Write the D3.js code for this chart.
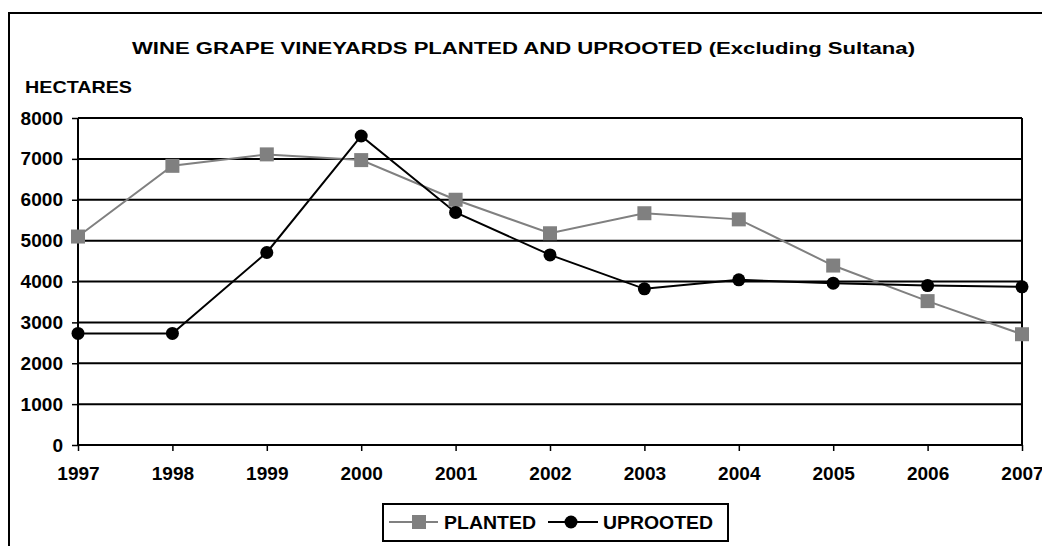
<!DOCTYPE html>
<html lang="en">
<head>
  <meta charset="UTF-8">
  <title>Wine grape vineyards planted and uprooted</title>
  <script src="https://d3js.org/d3.v7.min.js"></script>
  <style>
    body {
      margin: 0;
      padding: 0;
      background-color: #fff;
    }
    svg text {
      font-family: "Liberation Sans", Arial, sans-serif;
      font-weight: bold;
      fill: #000;
    }
    .grid line {
      stroke: #000;
      stroke-width: 2px;
    }
  </style>
</head>
<body>
  <div id="chart"></div>

  <script>
    // Data
    const years = ['1997', '1998', '1999', '2000', '2001', '2002', '2003', '2004', '2005', '2006', '2007'];
    const planted = [5100, 6830, 7110, 6970, 6000, 5180, 5670, 5520, 4390, 3520, 2710];
    const uprooted = [2730, 2730, 4710, 7560, 5690, 4650, 3820, 4040, 3960, 3900, 3870];
    const yTicks = [0, 1000, 2000, 3000, 4000, 5000, 6000, 7000, 8000];

    const width = 1042;
    const height = 546;
    const plot = { left: 78, right: 1022, top: 118, bottom: 445 };

    const svg = d3.select('#chart')
      .append('svg')
      .attr('width', width)
      .attr('height', height);

    // Outer frame (runs off the right and bottom edges)
    svg.append('rect')
      .attr('x', 9)
      .attr('y', 13)
      .attr('width', 1060)
      .attr('height', 560)
      .attr('fill', 'none')
      .attr('stroke', '#000')
      .attr('stroke-width', 2);

    const x = d3.scalePoint()
      .domain(years)
      .range([plot.left, plot.right]);

    const y = d3.scaleLinear()
      .domain([0, 8000])
      .range([plot.bottom, plot.top]);

    // the original text is a bit wider than Arial, so stretch it
    function stretch(sel, len) {
      sel.attr('textLength', len).attr('lengthAdjust', 'spacingAndGlyphs');
    }

    // Title
    svg.append('text')
      .attr('x', 132)
      .attr('y', 54)
      .style('font-size', '16px')
      .text('WINE GRAPE VINEYARDS PLANTED AND UPROOTED (Excluding Sultana)')
      .call(stretch, 783);

    svg.append('text')
      .attr('x', 25)
      .attr('y', 93)
      .style('font-size', '17px')
      .text('HECTARES')
      .call(stretch, 107);

    // Gridlines
    svg.append('g')
      .attr('class', 'grid')
      .selectAll('line')
      .data(yTicks.filter(d => d > 0))
      .enter()
      .append('line')
      .attr('x1', plot.left)
      .attr('x2', plot.right)
      .attr('y1', d => y(d))
      .attr('y2', d => y(d));

    // Right border of plot
    svg.append('line')
      .attr('x1', plot.right)
      .attr('x2', plot.right)
      .attr('y1', plot.top)
      .attr('y2', plot.bottom)
      .attr('stroke', '#000')
      .attr('stroke-width', 2);

    // Axes
    const yAxis = svg.append('g')
      .attr('transform', `translate(${plot.left},0)`)
      .call(d3.axisLeft(y).tickValues(yTicks).tickSize(6).tickPadding(9).tickFormat(d3.format('d')));

    const xAxis = svg.append('g')
      .attr('transform', `translate(0,${plot.bottom})`)
      .call(d3.axisBottom(x).tickSize(6).tickPadding(16));

    [yAxis, xAxis].forEach(g => {
      g.select('.domain').attr('stroke', '#000').attr('stroke-width', 2);
      g.selectAll('.tick line').attr('stroke', '#000').attr('stroke-width', 1.5);
      g.selectAll('.tick text')
        .style('font-size', '19px')
        .style('font-family', '"Liberation Sans", Arial, sans-serif')
        .style('font-weight', 'bold')
        .attr('fill', '#000')
        .each(function () {
          const n = this.textContent.length;
          d3.select(this).call(stretch, n * 10.6);
        });
    });
    xAxis.select('.domain').attr('d', `M${plot.left},0H${plot.right}`);
    yAxis.select('.domain').attr('d', `M0,${plot.bottom}V${plot.top}`);

    // Lines
    const line = d3.line()
      .x((d, i) => x(years[i]))
      .y(d => y(d));

    svg.append('path')
      .datum(planted)
      .attr('d', line)
      .attr('fill', 'none')
      .attr('stroke', '#808080')
      .attr('stroke-width', 2);

    svg.append('path')
      .datum(uprooted)
      .attr('d', line)
      .attr('fill', 'none')
      .attr('stroke', '#000')
      .attr('stroke-width', 2);

    svg.append('g')
      .selectAll('rect')
      .data(planted)
      .enter()
      .append('rect')
      .attr('x', (d, i) => x(years[i]) - 7)
      .attr('y', d => y(d) - 7)
      .attr('width', 14)
      .attr('height', 14)
      .attr('fill', '#808080');

    svg.append('g')
      .selectAll('circle')
      .data(uprooted)
      .enter()
      .append('circle')
      .attr('cx', (d, i) => x(years[i]))
      .attr('cy', d => y(d))
      .attr('r', 6.5)
      .attr('fill', '#000');

    // Legend
    const legend = svg.append('g');
    legend.append('rect')
      .attr('x', 383)
      .attr('y', 504)
      .attr('width', 345)
      .attr('height', 37)
      .attr('fill', '#fff')
      .attr('stroke', '#000')
      .attr('stroke-width', 2);

    legend.append('line')
      .attr('x1', 389).attr('x2', 438)
      .attr('y1', 522).attr('y2', 522)
      .attr('stroke', '#808080').attr('stroke-width', 2);
    legend.append('rect')
      .attr('x', 412).attr('y', 515)
      .attr('width', 14).attr('height', 14)
      .attr('fill', '#808080');
    legend.append('text')
      .attr('x', 444).attr('y', 529)
      .style('font-size', '18px')
      .text('PLANTED')
      .call(stretch, 92);

    legend.append('line')
      .attr('x1', 548).attr('x2', 598)
      .attr('y1', 522).attr('y2', 522)
      .attr('stroke', '#000').attr('stroke-width', 2);
    legend.append('circle')
      .attr('cx', 571).attr('cy', 522)
      .attr('r', 6.5)
      .attr('fill', '#000');
    legend.append('text')
      .attr('x', 603).attr('y', 529)
      .style('font-size', '18px')
      .text('UPROOTED')
      .call(stretch, 110);
  </script>
</body>
</html>
